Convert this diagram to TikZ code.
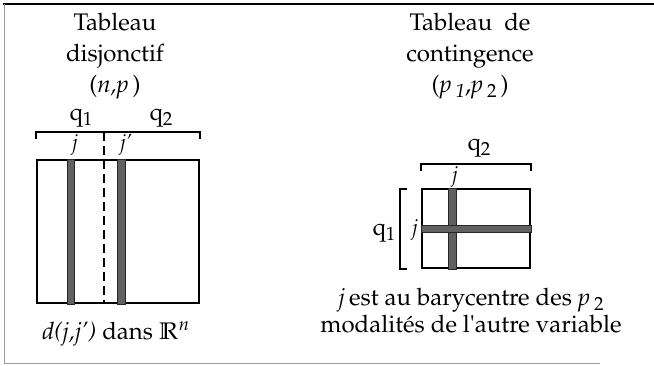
\documentclass[tikz,border=0pt]{standalone}
\usepackage{amsmath,amssymb}
\usepackage[T1]{fontenc}
\usepackage{mathpazo}
\usepackage{textcomp}
\usetikzlibrary{positioning,calc}
\newcommand{\lowidx}[1]{\raisebox{-0.45ex}{\fontsize{19}{19}\selectfont #1}}

\begin{document}
\begin{tikzpicture}[
    x=1pt, y=-1pt,
    title/.style={font=\fontsize{24}{31}\selectfont, align=center, inner sep=0pt},
    caption/.style={font=\fontsize{24}{27}\selectfont, align=center, inner sep=0pt},
    label/.style={font=\fontsize{24}{24}\selectfont, inner sep=0pt},
    idx/.style={font=\fontsize{21}{21}\selectfont\itshape, inner sep=0pt},
    table/.style={draw, line width=2.2pt, inner sep=0pt},
    band/.style={fill=black!62, draw=black!85, line width=0.6pt},
    brace/.style={line width=2pt}
]
\useasboundingbox (0,0) rectangle (654,365);
% cadre
\draw[line width=2pt] (3,4) -- (654,4);
\draw[black!40, line width=1pt] (4,4) -- (4,363) -- (600,363);

% tableau disjonctif
\node[title] (tdisj) at (115,56) {Tableau\\disjonctif\\(\textit{n,p}\,)};
\node[table, minimum width=162, minimum height=143] (disj) at (118,231.5) {};
\fill[band] ($(disj.north west)+(31,0)$) rectangle ($(disj.south west)+(38,0)$);
\fill[band] ($(disj.north west)+(81,0)$) rectangle ($(disj.south west)+(89,0)$);
\draw[brace] ($(disj.north west)+(0,-20)$) -- ++(0,-7) -- ($(disj.north east)+(0,-27)$) -- ++(0,7);
\draw[line width=2pt, dash pattern=on 9pt off 5pt] ($(disj.north west)+(68,-27)$) -- ($(disj.south west)+(68,0)$);
\node[label] (q1) at (81,118) {q\lowidx{1}};
\node[label] (q2) at (161,118) {q\lowidx{2}};
\node[idx] (jd) at (75,145) {j};
\node[idx] (jpd) at (126,145) {j'};
\node[caption] (cdisj) at (116,334) {\textit{d(j,j')} dans $\mathbb{R}^n$};

% tableau de contingence
\node[title] (tcont) at (470,56) {Tableau\ \ de\\contingence\\(\textit{p}\,\lowidx{\textit{1}},\textit{p}\,\lowidx{2}\,)};
\node[table, minimum width=108, minimum height=79] (cont) at (476,228.5) {};
\fill[band] ($(cont.north west)+(27,0)$) rectangle ($(cont.south west)+(35,0)$);
\fill[band] ($(cont.north west)+(0,37)$) rectangle ($(cont.north east)+(0,44)$);
\draw[brace] ($(cont.north west)+(0,-17)$) -- ++(0,-7) -- ($(cont.north east)+(0,-24)$) -- ++(0,7);
\draw[brace] ($(cont.north west)+(-14,1)$) -- ++(-7,0) -- ($(cont.south west)+(-21,0)$) -- ++(7,0);
\node[label] (q2c) at (479,148) {q\lowidx{2}};
\node[label] (q1c) at (384,233) {q\lowidx{1}};
\node[idx] (jc) at (455,177) {j};
\node[idx] (jl) at (415,230) {j};
\node[caption] (ccont) at (471,311) {\textit{j}\,est au barycentre des \textit{p}\,\lowidx{2}\\modalit\'es de l\textquotesingle autre variable};
\end{tikzpicture}
\end{document}
